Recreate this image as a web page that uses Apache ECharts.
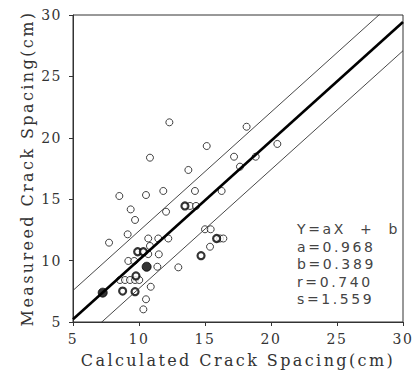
<!DOCTYPE html>
<html>
<head>
<meta charset="utf-8">
<script src="https://cdn.jsdelivr.net/npm/echarts@6/dist/echarts.min.js"></script>
<style>
html,body{margin:0;padding:0;background:#fff;}
#chart{width:418px;height:376px;}
#chart svg text { font-family: "DejaVu Serif", serif !important; letter-spacing: 1.5px; }
#chart svg text.ttl { letter-spacing: 2.4px; }
#chart svg text.stat { font-family: "DejaVu Sans", sans-serif !important; letter-spacing: 2.6px; }
</style>
</head>
<body>
<div id="chart"></div>
<script>
// ---- data ----
const xTicks = [5, 10, 15, 20, 25, 30];
const yTicks = [5, 10, 15, 20, 25, 30];
const xTitle = 'Calculated Crack Spacing(cm)';
const yTitle = 'Measureed Crack Spacing(cm)';

const openPoints = [
  [12.30, 21.26], [15.13, 19.33], [10.83, 18.38], [17.20, 18.46], [13.74, 17.38],
  [17.65, 17.65], [18.84, 18.46], [18.15, 20.90], [20.48, 19.50], [8.51, 15.26],
  [10.53, 15.34], [11.84, 15.67], [14.24, 15.67], [16.26, 15.67], [9.37, 14.17],
  [9.70, 13.31], [12.05, 13.98], [13.86, 14.45], [14.32, 14.45], [9.14, 12.14],
  [10.70, 11.80], [11.46, 11.80], [12.22, 11.80], [15.00, 12.55], [15.43, 12.55],
  [16.14, 11.80], [16.39, 11.80], [15.38, 11.13], [12.98, 9.45], [7.73, 11.46],
  [10.83, 11.19], [11.50, 10.51], [9.19, 9.97], [9.64, 9.97], [11.39, 9.50],
  [8.56, 8.42], [8.94, 8.42], [9.32, 8.42], [9.70, 8.42], [10.02, 8.42],
  [10.89, 7.87], [10.53, 6.85], [10.33, 6.03], [10.70, 10.53]
];
const boldPoints = [
  [13.48, 14.45], [14.70, 10.40], [15.88, 11.80], [9.77, 8.75],
  [8.76, 7.52], [9.70, 7.47], [9.90, 10.72], [10.33, 10.72]
];
const filledPoints = [[10.58, 9.50], [7.25, 7.39]];

// regression statistics shown on the chart
const coefA = 0.968;
const coefB = 0.389;
const coefR = 0.740;
const coefS = 1.559;
const bandOffset = 2.34; // vertical offset of the thin bounding lines
const statLines = ['Y=aX  +  b', 'a=' + coefA.toFixed(3), 'b=' + coefB.toFixed(3),
                   'r=' + coefR.toFixed(3), 's=' + coefS.toFixed(3)];

const xMin = 5, xMax = 30;
const fit = (x, d) => [x, coefA * x + coefB + d];
const regLine = [fit(xMin, 0), fit(xMax, 0)];
const upperLine = [fit(xMin, bandOffset), fit(xMax, bandOffset)];
const lowerLine = [fit(xMin, -bandOffset), fit(xMax, -bandOffset)];

const chart = echarts.init(document.getElementById('chart'), null, {renderer: 'svg'});

const axisCommon = {
  min: 5, max: 30, interval: 5,
  axisLine: {show: true, lineStyle: {color: '#333', width: 1}},
  axisTick: {show: true, inside: false, length: 4, lineStyle: {color: '#333'}},
  splitLine: {show: false},
  axisLabel: {fontFamily: 'serif', fontSize: 14, color: '#333'}
};

const statGraphics = statLines.map((t, i) => ({
  type: 'text',
  left: 297,
  top: 222 + i * 17.5,
  style: {text: t, fontFamily: 'sans-serif', fontSize: 14, fill: '#444'}
}));

chart.setOption({
  animation: false,
  backgroundColor: '#fff',
  grid: {left: 73, right: 15, top: 15, bottom: 54, show: true, borderColor: '#333', borderWidth: 1},
  xAxis: Object.assign({}, axisCommon, {
    type: 'value',
    name: xTitle, nameLocation: 'middle', nameGap: 30,
    nameTextStyle: {fontFamily: 'serif', fontSize: 16, color: '#333'},
    axisLabel: Object.assign({}, axisCommon.axisLabel, {margin: 10,
      formatter: v => xTicks.includes(v) ? String(v) : ''})
  }),
  yAxis: Object.assign({}, axisCommon, {
    type: 'value',
    name: yTitle, nameLocation: 'middle', nameGap: 38, nameRotate: 90,
    nameTextStyle: {fontFamily: 'serif', fontSize: 16, color: '#333'},
    axisLabel: Object.assign({}, axisCommon.axisLabel, {margin: 11,
      formatter: v => yTicks.includes(v) ? String(v) : ''})
  }),
  graphic: statGraphics,
  series: [
    {type: 'scatter', data: openPoints, symbol: 'circle', symbolSize: 7,
     itemStyle: {color: '#fff', borderColor: '#111', borderWidth: 1}, z: 3},
    {type: 'scatter', data: boldPoints, symbol: 'circle', symbolSize: 7,
     itemStyle: {color: '#fff', borderColor: '#000', borderWidth: 2.2}, z: 3},
    {type: 'scatter', data: filledPoints, symbol: 'circle', symbolSize: 9,
     itemStyle: {color: '#000', borderColor: '#000', borderWidth: 1}, z: 3},
    {type: 'line', data: regLine, showSymbol: false, symbol: 'none', clip: true,
     lineStyle: {color: '#000', width: 2.6}, z: 4},
    {type: 'line', data: upperLine, showSymbol: false, symbol: 'none', clip: true,
     lineStyle: {color: '#333', width: 0.9}, z: 4},
    {type: 'line', data: lowerLine, showSymbol: false, symbol: 'none', clip: true,
     lineStyle: {color: '#333', width: 0.9}, z: 4}
  ]
});

function tagTexts() {
  const texts = document.querySelectorAll('#chart svg text');
  texts.forEach(el => {
    const t = el.textContent;
    if (statLines.includes(t)) el.setAttribute('class', 'stat');
    else if (t === xTitle || t === yTitle) el.setAttribute('class', 'ttl');
  });
}
tagTexts();
chart.on('finished', tagTexts);
setTimeout(tagTexts, 0);
</script>
</body>
</html>
